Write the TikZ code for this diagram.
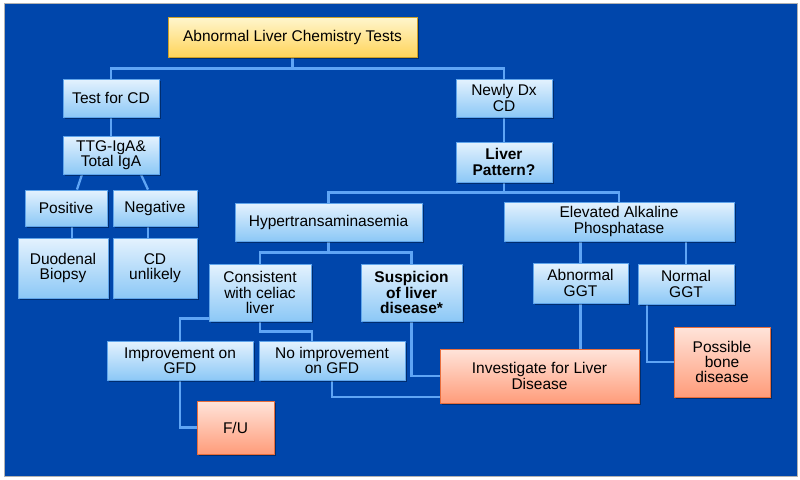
\documentclass[tikz,border=0pt]{standalone}
\usepackage{fontspec}
\setmainfont{Liberation Sans}
\usetikzlibrary{shadows}
\definecolor{bgblue}{RGB}{0,70,171}
\definecolor{btop}{RGB}{228,242,254}
\definecolor{bbot}{RGB}{140,200,246}
\definecolor{bedge}{RGB}{96,165,235}
\definecolor{ytop}{RGB}{255,246,206}
\definecolor{ybot}{RGB}{255,212,90}
\definecolor{yedge}{RGB}{205,160,40}
\definecolor{saltop}{RGB}{255,228,218}
\definecolor{salbot}{RGB}{255,156,122}
\definecolor{saledge}{RGB}{232,110,60}
\definecolor{linecol}{RGB}{95,165,245}
\pgfdeclarelayer{bg}
\pgfdeclarelayer{lines}
\pgfsetlayers{bg,lines,main}
\newcommand\boxfont{\fontsize{15.5}{15.3}\selectfont}
\tikzset{
  box/.style={rectangle, draw=bedge, line width=0.9pt, top color=btop, bottom color=bbot,
    inner sep=0pt, align=center, font=\boxfont, text=black,
    drop shadow={shadow xshift=1.5pt, shadow yshift=-1.5pt, fill=black, opacity=0.35}},
  ybox/.style={box, draw=yedge, top color=ytop, bottom color=ybot},
  sbox/.style={box, draw=saledge, top color=saltop, bottom color=salbot},
  conn/.style={draw=linecol, line width=2.3pt}
}
\begin{document}
\begin{tikzpicture}[x=1pt, y=-1pt]
\useasboundingbox (0,0) rectangle (800,479);
\begin{pgfonlayer}{bg}
  \fill[white] (0,0) rectangle (800,479);
  \filldraw[fill=bgblue, draw=gray!60, line width=0.6pt] (4,3) rectangle (797,476);
\end{pgfonlayer}

\node[ybox, minimum width=249pt, minimum height=40pt] (title) at (292.5,37) {Abnormal Liver Chemistry Tests};
\node[box, minimum width=96pt, minimum height=38pt] (tcd) at (111,98) {Test for CD};
\node[box, minimum width=96pt, minimum height=38pt] (ndx) at (504,98) {Newly Dx\\CD};
\node[box, minimum width=96pt, minimum height=38pt] (ttg) at (111,155) {TTG-IgA\&\\Total IgA};
\node[box, minimum width=96pt, minimum height=40pt, font=\boxfont\bfseries] (lp) at (504,162) {Liver\\Pattern?};
\node[box, minimum width=82pt, minimum height=36pt] (pos) at (66,208) {Positive};
\node[box, minimum width=84pt, minimum height=36pt] (neg) at (155,208) {Negative};
\node[box, minimum width=90pt, minimum height=60pt] (duo) at (63,268) {Duodenal\\Biopsy};
\node[box, minimum width=84pt, minimum height=60pt] (unl) at (155,268) {CD\\unlikely};
\node[box, minimum width=187pt, minimum height=38pt] (hyp) at (328.5,222) {Hypertransaminasemia};
\node[box, minimum width=230pt, minimum height=39pt] (elev) at (619,221.5) {Elevated Alkaline\\Phosphatase};
\node[box, minimum width=102pt, minimum height=57pt] (cons) at (260,292.5) {Consistent\\with celiac\\liver};
\node[box, minimum width=101pt, minimum height=57pt, font=\boxfont\bfseries] (susp) at (411.5,292.5) {Suspicion\\of liver\\disease*};
\node[box, minimum width=95pt, minimum height=40pt] (agt) at (580.5,283) {Abnormal\\GGT};
\node[box, minimum width=96pt, minimum height=40pt] (ngt) at (686,284) {Normal\\GGT};
\node[box, minimum width=146pt, minimum height=39pt] (imp) at (180,360.5) {Improvement on\\GFD};
\node[box, minimum width=146pt, minimum height=39pt] (noimp) at (332,360.5) {No improvement\\on GFD};
\node[sbox, minimum width=77pt, minimum height=53pt] (fu) at (235.5,427.5) {F/U};
\node[sbox, minimum width=199pt, minimum height=54pt] (inv) at (539.5,376) {Investigate for Liver\\Disease};
\node[sbox, minimum width=96pt, minimum height=70pt] (bone) at (722,362) {Possible\\bone\\disease};

\begin{pgfonlayer}{lines}
  \draw[conn] (title.south) -- ++(0,11) -| (tcd.north);
  \draw[conn] (title.south) -- ++(0,11) -| (ndx.north);
  \draw[conn] (tcd.south) -- (ttg.north);
  \draw[conn] ([xshift=-29pt]ttg.south) -- ([xshift=11pt]pos.north);
  \draw[conn] ([xshift=30pt]ttg.south) -- ([xshift=-7pt]neg.north);
  \draw[conn] ([xshift=6pt]pos.south) -- ([xshift=6pt]pos.south |- duo.north);
  \draw[conn] ([xshift=-7pt]neg.south) -- ([xshift=-7pt]neg.south |- unl.north);
  \draw[conn] (ndx.south) -- (lp.north);
  \draw[conn] (lp.south) -- ++(0,10) -| (hyp.north);
  \draw[conn] (lp.south) -- ++(0,10) -| (elev.north);
  \draw[conn] (hyp.south) -- ++(0,11) -| (cons.north);
  \draw[conn] (hyp.south) -- ++(0,11) -| (susp.north);
  \draw[conn] (agt.north) -- (agt.north |- elev.south);
  \draw[conn] (ngt.north) -- (ngt.north |- elev.south);
  \draw[conn] (cons.south) -- ++(0,-3) -| (imp.north);
  \draw[conn] (cons.south) -- ++(0,10) -| ([xshift=-20pt]noimp.north);
  \draw[conn] (imp.south) |- (fu.west);
  \draw[conn] (noimp.south) |- ([yshift=-21pt]inv.west);
  \draw[conn] (susp.south) |- (inv.west);
  \draw[conn] (agt.south) -- (agt.south |- inv.north);
  \draw[conn] ([xshift=-39pt]ngt.south) |- (bone.west);
\end{pgfonlayer}
\end{tikzpicture}
\end{document}
